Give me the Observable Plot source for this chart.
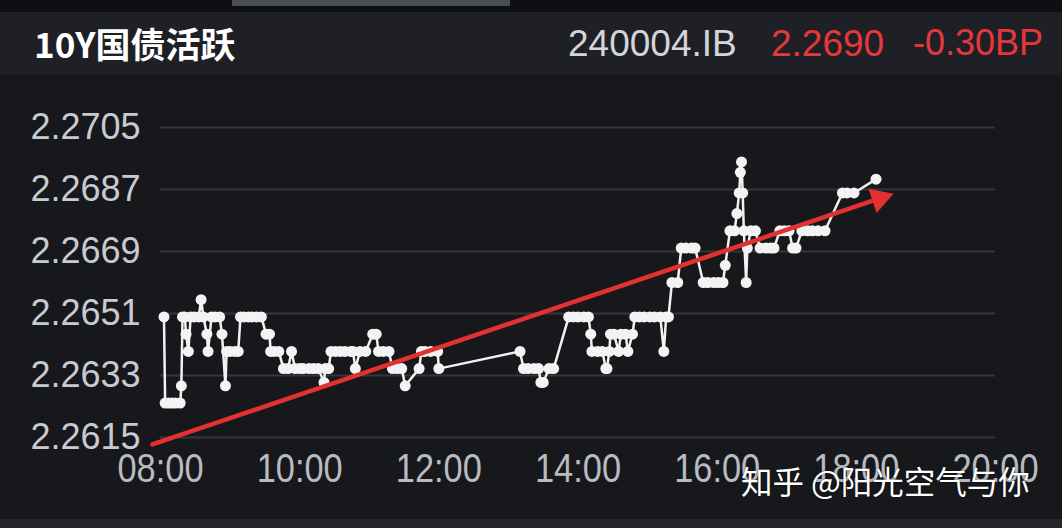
<!DOCTYPE html>
<html>
<head>
<meta charset="utf-8">
<script src="https://cdn.jsdelivr.net/npm/d3@7"></script>
<script src="https://cdn.jsdelivr.net/npm/@observablehq/plot@0.6"></script>
<style>
  html, body { margin: 0; padding: 0; background: #17181c; }
  #page { position: relative; width: 1062px; height: 528px; background: #17181c; overflow: hidden; font-family: "Liberation Sans", "Noto Sans", sans-serif; }
  #topstrip { position: absolute; left: 0; top: 0; width: 1062px; height: 12px; background: #0e0f12; }
  #tab { position: absolute; left: 232px; top: 0; width: 278px; height: 6px; background: #4a4d55; }
  #header { position: absolute; left: 0; top: 12px; width: 1062px; height: 63px; background: #1f2025; }
  .ht { position: absolute; white-space: nowrap; line-height: 1; }
  #title { left: 34px; top: 13px; font-family: "Noto Sans CJK SC", "Noto Sans", sans-serif; font-weight: 700; font-size: 35px; color: #ffffff; }
  #code { left: 568px; top: 13px; font-size: 37px; color: #d4d5d9; }
  #price { left: 771px; top: 13px; font-size: 37px; color: #e5383c; }
  #chg { left: 913px; top: 13px; font-size: 36px; color: #e5383c; }
  #chart { position: absolute; left: 0; top: 78px; }
  #bottomstrip { position: absolute; left: 0; top: 519px; width: 1062px; height: 9px; background: #26272c; }
  #wm { position: absolute; left: 741px; top: 465px; font-family: "Noto Sans CJK SC", sans-serif; font-size: 31.5px; color: #ffffff; text-shadow: 0 0 2px rgba(0,0,0,0.6); white-space: nowrap; line-height: 1; }
</style>
</head>
<body>
<div id="page">
  <div id="topstrip"><div id="tab"></div></div>
  <div id="header">
    <div class="ht" id="title">10Y国债活跃</div>
    <div class="ht" id="code">240004.IB</div>
    <div class="ht" id="price">2.2690</div>
    <div class="ht" id="chg">-0.30BP</div>
  </div>
  <div id="chart"></div>
  <div id="bottomstrip"></div>
  <div id="wm">知乎 @阳光空气与你</div>
</div>
<script>
// ---- data ----
const times = ["08:03","08:04","08:07","08:10","08:13","08:17","08:18","08:19","08:21","08:22","08:24","08:26","08:29","08:33","08:35","08:37","08:40","08:41","08:44","08:47","08:51","08:53","08:56","08:57","09:00","09:04","09:07","09:09","09:12","09:16","09:19","09:23","09:27","09:31","09:34","09:35","09:38","09:42","09:46","09:50","09:53","09:56","10:00","10:03","10:08","10:12","10:16","10:21","10:22","10:25","10:27","10:31","10:35","10:39","10:44","10:46","10:48","10:52","10:57","11:03","11:06","11:08","11:12","11:17","11:20","11:24","11:28","11:31","11:43","11:45","11:48","11:53","11:59","12:00","13:10","13:13","13:17","13:22","13:26","13:28","13:30","13:35","13:39","13:52","13:56","14:00","14:05","14:09","14:11","14:12","14:17","14:21","14:24","14:25","14:27","14:28","14:31","14:35","14:37","14:41","14:43","14:47","14:49","14:53","14:57","15:02","15:06","15:11","15:14","15:16","15:18","15:21","15:26","15:29","15:33","15:38","15:41","15:48","15:52","15:57","16:01","16:05","16:07","16:11","16:15","16:17","16:19","16:20","16:21","16:22","16:23","16:25","16:26","16:29","16:33","16:37","16:42","16:46","16:49","16:54","16:58","17:02","17:05","17:08","17:13","17:18","17:22","17:27","17:33","17:48","17:52","17:58","18:17"];
const yields = [2.2650,2.2625,2.2625,2.2625,2.2625,2.2625,2.2630,2.2650,2.2650,2.2645,2.2640,2.2650,2.2650,2.2650,2.2655,2.2650,2.2645,2.2640,2.2650,2.2650,2.2650,2.2645,2.2630,2.2640,2.2640,2.2640,2.2640,2.2650,2.2650,2.2650,2.2650,2.2650,2.2650,2.2645,2.2645,2.2640,2.2640,2.2640,2.2635,2.2635,2.2640,2.2635,2.2635,2.2635,2.2635,2.2635,2.2635,2.2631,2.2635,2.2635,2.2640,2.2640,2.2640,2.2640,2.2640,2.2640,2.2635,2.2640,2.2640,2.2645,2.2645,2.2640,2.2640,2.2640,2.2635,2.2635,2.2635,2.2630,2.2635,2.2640,2.2640,2.2640,2.2640,2.2635,2.2640,2.2635,2.2635,2.2635,2.2635,2.2631,2.2631,2.2635,2.2635,2.2650,2.2650,2.2650,2.2650,2.2650,2.2645,2.2640,2.2640,2.2640,2.2635,2.2635,2.2640,2.2645,2.2645,2.2640,2.2645,2.2645,2.2640,2.2645,2.2650,2.2650,2.2650,2.2650,2.2650,2.2650,2.2640,2.2650,2.2650,2.2660,2.2660,2.2670,2.2670,2.2670,2.2670,2.2660,2.2660,2.2660,2.2660,2.2660,2.2665,2.2675,2.2675,2.2680,2.2686,2.2692,2.2695,2.2686,2.2675,2.2660,2.2670,2.2675,2.2675,2.2670,2.2670,2.2670,2.2670,2.2675,2.2675,2.2675,2.2670,2.2670,2.2675,2.2675,2.2675,2.2675,2.2675,2.2686,2.2686,2.2686,2.2690];
const xTickLabels = ["08:00","10:00","12:00","14:00","16:00","18:00","20:00"];
const yTickValues = [2.2615, 2.2633, 2.2651, 2.2669, 2.2687, 2.2705];
// trend arrow annotation (start, head)
const arrowTimes = ["07:53", "18:20"];
const arrowValues = [2.2613, 2.26844];

// ---- build ----
const toDate = s => { const [h, m] = s.split(":").map(Number); return new Date(Date.UTC(2024, 0, 8, h, m)); };
const data = times.map((t, i) => ({ t: toDate(t), v: yields[i] }));
const arrow = arrowTimes.map((t, i) => ({ t: toDate(t), v: arrowValues[i] }));
const head = [arrow[arrow.length - 1]];
const xTicks = xTickLabels.map(toDate);

const chart = Plot.plot({
  width: 1062,
  height: 440,
  marginLeft: 160,
  marginRight: 67,
  marginTop: 49,
  marginBottom: 81,
  style: { background: "transparent", color: "#c6c7cb", fontFamily: "Liberation Sans, sans-serif", overflow: "visible" },
  x: { type: "utc", domain: [toDate("08:00"), toDate("20:00")], label: null },
  y: { domain: [2.2615, 2.2705], label: null },
  marks: [
    Plot.gridY(yTickValues, { stroke: "#34363c", strokeOpacity: 1, strokeWidth: 2 }),
    Plot.axisY(yTickValues, { tickSize: 0, tickPadding: 20, fontSize: 36, fill: "#c9cacf", tickFormat: d => d.toFixed(4), label: null }),
    Plot.axisX(xTicks, { tickSize: 0, tickPadding: 16, fontSize: 40, fill: "#b9bbc0", tickFormat: d3.utcFormat("%H:%M"), label: null }),
    Plot.line(data, { x: "t", y: "v", stroke: "#f1f1f1", strokeWidth: 2.5, curve: "linear" }),
    Plot.dot(data, { x: "t", y: "v", r: 5.5, fill: "#f3f3f3", stroke: "none" }),
    Plot.line(arrow, { x: "t", y: "v", stroke: "#e2312f", strokeWidth: 4.5 }),
    Plot.dot(head, { x: "t", y: "v", symbol: "triangle", r: 9.5, fill: "#e2312f", stroke: "none", rotate: 71.5 })
  ]
});
// condense the x tick labels horizontally, like the reference's narrow face
d3.select(chart).selectAll('g[aria-label="x-axis tick label"] text').each(function () {
  const tr = this.getAttribute("transform") || "";
  this.setAttribute("transform", tr + " scale(0.86,1)");
});
document.getElementById("chart").appendChild(chart);
</script>
</body>
</html>
